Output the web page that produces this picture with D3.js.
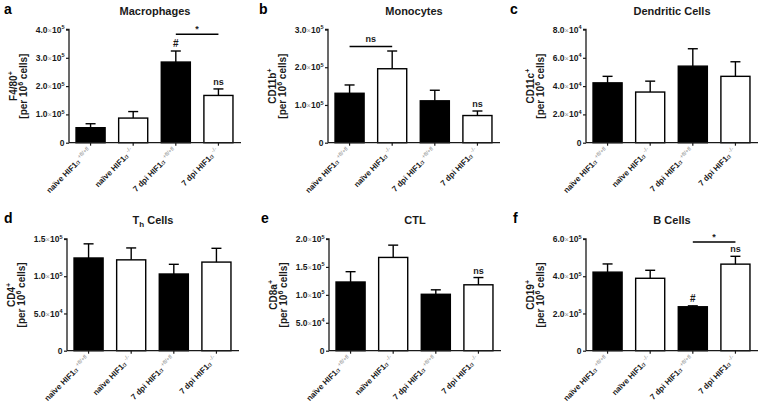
<!DOCTYPE html>
<html><head><meta charset="utf-8">
<script src="https://cdn.jsdelivr.net/npm/d3@7"></script>
<style>
html,body{margin:0;padding:0;background:#fff;}
svg{display:block;font-family:"Liberation Sans",Arial,sans-serif;}
</style></head>
<body><svg id="c" width="760" height="406"></svg>
<script>
// ---- data ----
const categories = ["naïve|+fl/+fl", "naïve|-/-", "7 dpi|+fl/+fl", "7 dpi|-/-"];
const barFill = ["black", "white", "black", "white"];

const macrophagesMean = [0.53e5, 0.87e5, 2.85e5, 1.67e5];
const macrophagesSem  = [0.14e5, 0.23e5, 0.39e5, 0.23e5];
const macrophagesTicks = [0, 1e5, 2e5, 3e5, 4e5];

const monocytesMean = [1.31e5, 1.96e5, 1.11e5, 0.72e5];
const monocytesSem  = [0.22e5, 0.47e5, 0.28e5, 0.12e5];
const monocytesTicks = [0, 1e5, 2e5, 3e5];

const dendriticMean = [4.23e4, 3.58e4, 5.41e4, 4.69e4];
const dendriticSem  = [0.46e4, 0.77e4, 1.23e4, 1.03e4];
const dendriticTicks = [0, 2e4, 4e4, 6e4, 8e4];

const thMean = [1.245e5, 1.22e5, 1.03e5, 1.19e5];
const thSem  = [0.19e5, 0.16e5, 0.13e5, 0.185e5];
const thTicks = [0, 5e4, 1e5, 1.5e5];

const ctlMean = [1.23e5, 1.67e5, 1.01e5, 1.18e5];
const ctlSem  = [0.185e5, 0.22e5, 0.08e5, 0.13e5];
const ctlTicks = [0, 5e4, 1e5, 1.5e5, 2e5];

const bcellMean = [4.22e5, 3.89e5, 2.36e5, 4.65e5];
const bcellSem  = [0.44e5, 0.43e5, 0.05e5, 0.42e5];
const bcellTicks = [0, 2e5, 4e5, 6e5];

// annotations: marks above bars and brackets (category indices, level in data units)
const macrophagesMarks = [{i:2, t:"#"}, {i:3, t:"ns"}];
const macrophagesBrackets = [{a:2, b:3, level:3.83e5, t:"*"}];
const monocytesMarks = [{i:3, t:"ns"}];
const monocytesBrackets = [{a:0, b:1, level:2.55e5, t:"ns"}];
const ctlMarks = [{i:3, t:"ns"}];
const bcellMarks = [{i:2, t:"#"}, {i:3, t:"ns"}];
const bcellBrackets = [{a:2, b:3, level:5.84e5, t:"*"}];

// ---- layout ----
const panels = [
  {letter:"a", title:"Macrophages", ylab:"F4/80", mean:macrophagesMean, sem:macrophagesSem, ticks:macrophagesTicks, marks:macrophagesMarks, brackets:macrophagesBrackets, ax:69, lx:4, top:29.5, bottom:142.7},
  {letter:"b", title:"Monocytes", ylab:"CD11b", mean:monocytesMean, sem:monocytesSem, ticks:monocytesTicks, marks:monocytesMarks, brackets:monocytesBrackets, ax:328, lx:259, top:29.5, bottom:142.7},
  {letter:"c", title:"Dendritic Cells", ylab:"CD11c", mean:dendriticMean, sem:dendriticSem, ticks:dendriticTicks, marks:[], brackets:[], ax:586, lx:510, top:29.5, bottom:142.7},
  {letter:"d", title:"Th", ylab:"CD4", mean:thMean, sem:thSem, ticks:thTicks, marks:[], brackets:[], ax:67, lx:4, top:239, bottom:350.7},
  {letter:"e", title:"CTL", ylab:"CD8a", mean:ctlMean, sem:ctlSem, ticks:ctlTicks, marks:ctlMarks, brackets:[], ax:329, lx:261, top:239, bottom:350.7},
  {letter:"f", title:"B Cells", ylab:"CD19", mean:bcellMean, sem:bcellSem, ticks:bcellTicks, marks:bcellMarks, brackets:bcellBrackets, ax:586, lx:513, top:239, bottom:350.7}
];

const svg = d3.select("#c");
const ink = "#1a1a1a";

function tickLabel(sel, v){
  sel.text(null);
  if (v === 0){ sel.append("tspan").text("0"); return; }
  const e = Math.floor(Math.log10(v));
  const m = v / Math.pow(10, e);
  sel.append("tspan").text(m.toFixed(1));
  sel.append("tspan").attr("fill","#999").attr("font-weight","normal").attr("font-size","7.5px").text("×");
  sel.append("tspan").text("10");
  sel.append("tspan").attr("font-size","5.5px").attr("dy","-3.5").text(String(e));
}

panels.forEach(p => {
  const g = svg.append("g");
  const x = d3.scaleBand().domain(categories).range([p.ax, p.ax + 171]).paddingInner(0.318).paddingOuter(0.165);
  const ymax = p.ticks[p.ticks.length-1];
  const y = d3.scaleLinear().domain([0, ymax]).range([p.bottom, p.top]);

  // panel letter
  g.append("text").attr("x", p.lx).attr("y", p.top - 16).attr("font-size","14px").attr("font-weight","bold").attr("fill","#000").text(p.letter);
  // title
  const tt = g.append("text").attr("x", p.ax + 86).attr("y", p.top - 15).attr("text-anchor","middle")
     .attr("font-size","11px").attr("font-weight","bold").attr("fill",ink);
  if (p.title === "Th"){
    tt.append("tspan").text("T");
    tt.append("tspan").attr("font-size","8px").attr("dy","3").text("h");
    tt.append("tspan").attr("dy","-3").text(" Cells");
  } else tt.text(p.title);

  // y label
  const cy = (p.top + p.bottom)/2;
  const yl = g.append("g").attr("transform", `translate(${p.ax - 52.5},${cy}) rotate(-90)`);
  const l1 = yl.append("text").attr("text-anchor","middle").attr("y",0).attr("font-size","10px").attr("font-weight","bold").attr("fill",ink);
  l1.append("tspan").text(p.ylab);
  l1.append("tspan").attr("font-size","7px").attr("dy","-4").text("+");
  const l2 = yl.append("text").attr("text-anchor","middle").attr("y",10).attr("font-size","10px").attr("font-weight","bold").attr("fill",ink);
  l2.append("tspan").text("[per 10");
  l2.append("tspan").attr("font-size","7px").attr("dy","-4").text("6");
  l2.append("tspan").attr("dy","4").text(" cells]");

  // bars
  g.selectAll("rect.bar").data(p.mean).join("rect")
    .attr("x",(d,i)=>x(categories[i])).attr("width",x.bandwidth())
    .attr("y",d=>y(d)).attr("height",d=>y(0)-y(d))
    .attr("fill",(d,i)=>barFill[i]).attr("stroke","#000").attr("stroke-width",1.4);

  // error bars
  p.mean.forEach((m,i)=>{
    const cx = x(categories[i]) + x.bandwidth()/2;
    g.append("line").attr("x1",cx).attr("x2",cx).attr("y1",y(m)).attr("y2",y(m+p.sem[i])).attr("stroke","#000").attr("stroke-width",1.4);
    g.append("line").attr("x1",cx-5).attr("x2",cx+5).attr("y1",y(m+p.sem[i])).attr("y2",y(m+p.sem[i])).attr("stroke","#000").attr("stroke-width",1.4);
  });

  // y axis
  const yAxis = d3.axisLeft(y).tickValues(p.ticks).tickSize(3).tickPadding(1.5);
  const ya = g.append("g").attr("transform",`translate(${p.ax},0)`).call(yAxis);
  ya.attr("font-family",null).attr("font-size",null);
  ya.select(".domain").attr("stroke",ink).attr("stroke-width",1.3).attr("d",`M-3,${p.top}H0V${p.bottom}`);
  ya.selectAll(".tick line").attr("stroke",ink).attr("stroke-width",1.2);
  ya.selectAll(".tick text").attr("font-size","8.5px").attr("fill",ink).attr("font-weight","bold").attr("dy","0.3em")
    .each(function(d){ tickLabel(d3.select(this), d); });

  // x axis
  const xAxis = d3.axisBottom(x).tickSize(3).tickFormat("");
  const xa = g.append("g").attr("transform",`translate(0,${p.bottom})`).call(xAxis);
  xa.select(".domain").attr("stroke",ink).attr("stroke-width",1.3).attr("d",`M${p.ax},0H${p.ax+172}`);
  xa.selectAll(".tick line").attr("stroke",ink).attr("stroke-width",1.2);

  // x labels
  categories.forEach((c,i)=>{
    const [grp, gen] = c.split("|");
    const cx = x(c) + x.bandwidth()/2;
    const t = g.append("text").attr("transform",`translate(${cx+1},${p.bottom+9}) rotate(-45)`)
      .attr("text-anchor","end").attr("font-size","8px").attr("font-weight","bold").attr("fill",ink);
    t.append("tspan").text(grp + " HIF1");
    t.append("tspan").attr("font-size","6.5px").attr("font-weight","normal").text("α");
    t.append("tspan").attr("font-size","5.5px").attr("font-weight","normal").attr("fill","#888").attr("dx","2").attr("dy","-3.5").text(gen);
  });

  // marks above bars
  p.marks.forEach(mk=>{
    const cx = x(categories[mk.i]) + x.bandwidth()/2;
    g.append("text").attr("x",cx).attr("y", y(p.mean[mk.i]+p.sem[mk.i]) - 4)
      .attr("text-anchor","middle").attr("font-size", mk.t==="#" ? "10px":"9px").attr("font-weight","bold").attr("fill",ink).text(mk.t);
  });
  // brackets
  p.brackets.forEach(b=>{
    const x1 = x(categories[b.a]) + x.bandwidth()/2, x2 = x(categories[b.b]) + x.bandwidth()/2;
    g.append("line").attr("x1",x1).attr("x2",x2).attr("y1",y(b.level)).attr("y2",y(b.level)).attr("stroke","#000").attr("stroke-width",1.4);
    g.append("text").attr("x",(x1+x2)/2).attr("y",y(b.level) - (b.t==="*"?2:4)).attr("text-anchor","middle")
      .attr("font-size","9px").attr("font-weight","bold").attr("fill",ink).text(b.t);
  });
});
</script></body></html>
